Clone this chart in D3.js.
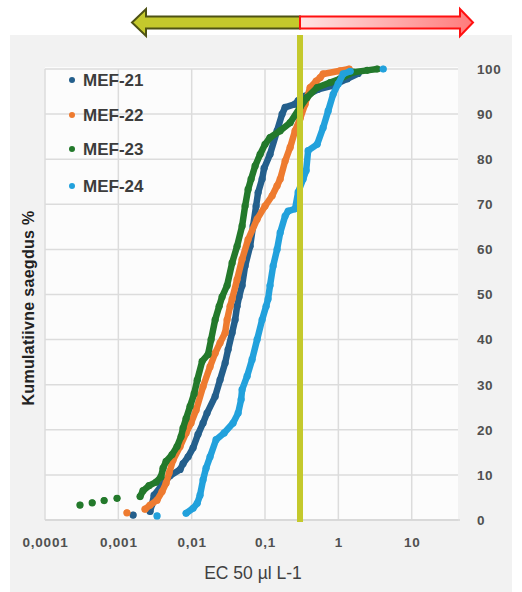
<!DOCTYPE html>
<html>
<head>
<meta charset="utf-8">
<script src="https://cdn.jsdelivr.net/npm/d3@7"></script>
<style>
  body { margin: 0; background: #fff; }
  svg { display: block; font-family: "Liberation Sans", Arial, sans-serif; }
</style>
</head>
<body>
<svg id="chart"></svg>
<script>
const seriesNames = ["MEF-21", "MEF-22", "MEF-23", "MEF-24"];
const seriesColors = ["#245f8c", "#ee7b30", "#23792b", "#22a1dc"];

// [EC50 µl/L, cumulative %] -- null breaks the line between loose dots
const mef21 = [
  [0.00159, 1.1], null,
  [0.00271, 1.9], [0.00288, 3.5], [0.00307, 5.5], [0.00382, 7.5], [0.00507, 9.8],
  [0.00695, 11.2], [0.00763, 12.5], [0.00893, 14], [0.01045, 16], [0.0122, 19],
  [0.0143, 21.5], [0.0162, 23.7], [0.0209, 27.4], [0.0244, 31.1], [0.0286, 34.8],
  [0.0314, 37.8], [0.0356, 41.5], [0.0391, 44.4], [0.0416, 47.4], [0.0443, 49.5],
  [0.0487, 52], [0.0535, 56.3], [0.0626, 60.7], [0.0688, 65.2], [0.0756, 69.6],
  [0.0805, 72.6], [0.0913, 75.6], [0.0972, 78], [0.117, 81.1], [0.146, 86.3],
  [0.171, 90], [0.188, 91.5], [0.257, 92.2], [0.283, 93], [0.352, 94],
  [0.530, 95.5], [0.849, 96.3], [1.318, 97.8], [1.863, 99]
];
const mef22 = [
  [0.00131, 1.6], null,
  [0.00231, 2.4], [0.00271, 3.3], [0.00337, 4.4], [0.00395, 6.3], [0.00448, 8.2],
  [0.00492, 10.4], [0.00558, 13.3], [0.00695, 16.3], [0.00839, 19.3], [0.0098, 21.5],
  [0.0115, 24.4], [0.0143, 29.6], [0.0178, 34], [0.0209, 37], [0.0244, 39.3],
  [0.0286, 41.5], [0.0304, 44.4], [0.0334, 47.4], [0.0356, 49], [0.0416, 53.3],
  [0.0487, 57.8], [0.0588, 62.2], [0.078, 66.7], [0.100, 69.6], [0.125, 71.9],
  [0.146, 74.1], [0.161, 75.6], [0.188, 79.6], [0.220, 82.6], [0.257, 86.3],
  [0.301, 89], [0.352, 92.2], [0.412, 95.9], [0.498, 97.3], [0.565, 98.1],
  [0.620, 98.9], [1.058, 99.6], [1.404, 100]
];
const mef23 = [
  [0.00030, 3.3], null, [0.00044, 3.8], null, [0.00064, 4.3], null, [0.00096, 4.8], null,
  [0.00198, 5.2], [0.00217, 6.5], [0.00262, 7.6], [0.00327, 8.4], [0.00382, 9.6],
  [0.00407, 11.5], [0.00448, 13], [0.0054, 14.5], [0.00632, 16.3], [0.00717, 18.5],
  [0.00763, 20.4], [0.00839, 22.5], [0.00951, 25.2], [0.0108, 28], [0.0119, 31],
  [0.0139, 35.2], [0.0167, 36.7], [0.0184, 40], [0.0209, 44.4], [0.0237, 47.4],
  [0.0260, 49.5], [0.0304, 52], [0.0356, 57], [0.0416, 60.7], [0.0487, 65.2],
  [0.0535, 69.6], [0.0588, 73.3], [0.0646, 75.6], [0.0733, 78.5], [0.0858, 81.1],
  [0.100, 83.3], [0.117, 84.8], [0.161, 86.3], [0.220, 88.1], [0.301, 91.5],
  [0.375, 93.7], [0.514, 95.9], [0.773, 97], [1.058, 97.8], [1.592, 99.3],
  [2.472, 99.7], [3.383, 100]
];
const mef24 = [
  [0.00337, 0.9], null,
  [0.00839, 1.5], [0.01045, 2.6], [0.0119, 3.7], [0.0130, 5.5], [0.0143, 8.9],
  [0.0157, 11.5], [0.0178, 14], [0.0215, 17.8], [0.0277, 19.3], [0.0367, 21.5],
  [0.0430, 23.7], [0.0472, 26.7], [0.0487, 28.9], [0.0570, 31.9], [0.0667, 35.6],
  [0.078, 40], [0.0913, 44.4], [0.1035, 47.4], [0.110, 49], [0.117, 52],
  [0.129, 56.3], [0.146, 60], [0.161, 63.7], [0.188, 67.4], [0.207, 68.5],
  [0.257, 69], [0.283, 72.7], [0.331, 75.6], [0.364, 77.5], [0.387, 81.9],
  [0.514, 83.3], [0.620, 87], [0.726, 90.7], [0.849, 94.4], [0.994, 96.7],
  [1.163, 98.9], [1.449, 99.5], null,
  [4.086, 100]
];
const seriesData = [mef21, mef22, mef23, mef24];

const xTicks = [0.0001, 0.001, 0.01, 0.1, 1, 10];
const xTickLabels = ["0,0001", "0,001", "0,01", "0,1", "1", "10"];
const yTicks = [0, 10, 20, 30, 40, 50, 60, 70, 80, 90, 100];
const threshold = 0.3; // vertical marker line
const xTitle = "EC 50 µl L-1";
const yTitle = "Kumulatiivne saegdus %";

const width = 522, height = 592;
const plotLeft = 45, plotRight = 458, plotTop = 69, plotBottom = 520;

const svg = d3.select("#chart")
    .attr("width", width)
    .attr("height", height)
    .attr("viewBox", [0, 0, width, height]);

const x = d3.scaleLog().domain([1e-4, 10]).range([plotLeft, 411.7]);
const y = d3.scaleLinear().domain([0, 100]).range([plotBottom, plotTop]);

// backgrounds
svg.append("rect").attr("width", width).attr("height", height).attr("fill", "#fff");
svg.append("rect")
    .attr("x", 10).attr("y", 35).attr("width", 502).attr("height", 557)
    .attr("fill", "#f2f2f2");
svg.append("rect")
    .attr("x", plotLeft).attr("y", plotTop - 2)
    .attr("width", plotRight - plotLeft).attr("height", plotBottom - plotTop + 2)
    .attr("fill", "#fcfcfc");

// grid
svg.append("g")
    .selectAll("line")
    .data(yTicks)
    .join("line")
      .attr("x1", plotLeft).attr("x2", plotRight)
      .attr("y1", d => y(d)).attr("y2", d => y(d))
      .attr("stroke", "#dcdcdc").attr("stroke-width", 1.5);
svg.append("g")
    .selectAll("line")
    .data(xTicks)
    .join("line")
      .attr("x1", d => x(d)).attr("x2", d => x(d))
      .attr("y1", plotTop).attr("y2", plotBottom)
      .attr("stroke", "#dcdcdc").attr("stroke-width", 1.5);

// x axis
svg.append("g")
    .attr("transform", `translate(0,${plotBottom})`)
    .call(d3.axisBottom(x).tickValues(xTicks).tickFormat((d, i) => xTickLabels[i]).tickSize(0).tickPadding(17))
    .call(g => g.select(".domain").remove())
    .call(g => g.selectAll(".tick text")
        .attr("font-size", 13.5).attr("font-weight", "bold")
        .attr("letter-spacing", 0.8).attr("fill", "#505050")
        .attr("font-family", "Liberation Sans, Arial, sans-serif"));

svg.append("line")
    .attr("x1", plotLeft).attr("x2", plotRight + 2)
    .attr("y1", plotBottom).attr("y2", plotBottom)
    .attr("stroke", "#d6d6d6").attr("stroke-width", 1.5);

// y axis on the right
svg.append("g")
    .attr("transform", `translate(${plotRight},0)`)
    .call(d3.axisRight(y).tickValues(yTicks).tickSize(0).tickPadding(19))
    .call(g => g.select(".domain").remove())
    .call(g => g.selectAll(".tick text")
        .attr("font-size", 13.5).attr("font-weight", "bold")
        .attr("letter-spacing", 0.6).attr("fill", "#505050")
        .attr("font-family", "Liberation Sans, Arial, sans-serif"));

// titles
svg.append("text")
    .attr("x", 253).attr("y", 579)
    .attr("text-anchor", "middle")
    .attr("font-size", 17.5).attr("fill", "#404040")
    .text(xTitle);
svg.append("text")
    .attr("transform", "translate(34,308) rotate(-90)")
    .attr("text-anchor", "middle")
    .attr("font-size", 16).attr("font-weight", "bold").attr("fill", "#222")
    .attr("letter-spacing", 0.3)
    .text(yTitle);

// series
const line = d3.line()
    .defined(d => d !== null)
    .x(d => x(d[0]))
    .y(d => y(d[1]));

seriesData.forEach((data, k) => {
  const g = svg.append("g");
  g.append("path")
      .attr("d", line(data))
      .attr("fill", "none")
      .attr("stroke", seriesColors[k])
      .attr("stroke-width", 6.5)
      .attr("stroke-linejoin", "round")
      .attr("stroke-linecap", "round");
  g.selectAll("circle")
    .data(data.filter(d => d !== null))
    .join("circle")
      .attr("cx", d => x(d[0]))
      .attr("cy", d => y(d[1]))
      .attr("r", 3.6)
      .attr("fill", seriesColors[k]);
});

// threshold marker
svg.append("line")
    .attr("x1", x(threshold)).attr("x2", x(threshold))
    .attr("y1", 35).attr("y2", plotBottom + 2)
    .attr("stroke", "#c4c92c").attr("stroke-width", 6);

// arrows above the chart
const defs = svg.append("defs");
const grad = defs.append("linearGradient").attr("id", "redfade");
grad.append("stop").attr("offset", "0%").attr("stop-color", "#ffe4e4");
grad.append("stop").attr("offset", "100%").attr("stop-color", "#ff7b7b");

const mid = x(threshold), cy = 22.5;
const shaft = 6, head = 13.5;
svg.append("path")
    .attr("d", `M${mid},${cy - shaft} L146,${cy - shaft} L146,${cy - head} L132,${cy} L146,${cy + head} L146,${cy + shaft} L${mid},${cy + shaft} Z`)
    .attr("fill", "#c4c92c").attr("stroke", "#4e5214").attr("stroke-width", 2);
svg.append("path")
    .attr("d", `M${mid},${cy - shaft} L460,${cy - shaft} L460,${cy - head} L473,${cy} L460,${cy + head} L460,${cy + shaft} L${mid},${cy + shaft} Z`)
    .attr("fill", "url(#redfade)").attr("stroke", "#ff1010").attr("stroke-width", 2);

// legend
const legend = svg.append("g")
  .selectAll("g")
  .data(seriesNames)
  .join("g")
    .attr("transform", (d, i) => `translate(72,${[80, 115, 149, 186][i]})`);
legend.append("circle").attr("r", 3).attr("fill", (d, i) => seriesColors[i]);
legend.append("text")
    .attr("x", 11).attr("dy", "0.36em")
    .attr("font-size", 17).attr("font-weight", "bold").attr("fill", "#3c3c3c")
    .text(d => d);
</script>
</body>
</html>
